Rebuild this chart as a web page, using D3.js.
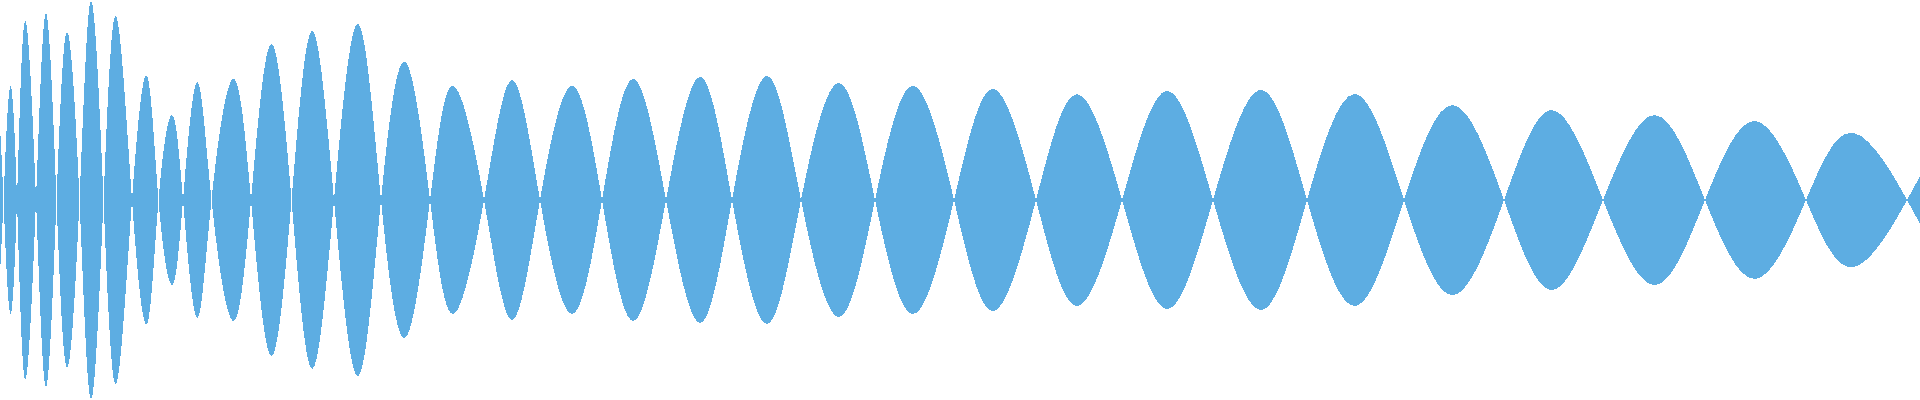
<!DOCTYPE html>
<html>
<head>
<meta charset="utf-8">
<script src="https://cdn.jsdelivr.net/npm/d3@7"></script>
<style>
  html, body { margin: 0; padding: 0; background: #ffffff; overflow: hidden; }
  svg { display: block; }
</style>
</head>
<body>
<svg id="chart" width="1920" height="400"></svg>
<script>
// Zero-crossing positions of the waveform (sample index)
const crossingPos = [3.5, 17, 36, 56.5, 79.5, 103.5, 132, 158.5, 183, 211.5, 251, 291.5, 334, 381, 430, 484, 540, 602, 666, 732, 801, 875, 954, 1036, 1122, 1213, 1307, 1404, 1504, 1603, 1705, 1806, 1907];
// Peak position of each lobe between consecutive crossings
const peakPos = [10, 25, 46, 67, 91, 116, 147, 172, 197, 233, 271, 312, 358, 405, 453, 512, 572, 633, 700, 767, 839, 913, 993, 1077, 1167, 1261, 1355, 1453, 1552, 1655, 1755, 1854];
// Peak amplitude (normalised, 0..1) of each lobe
const peakAmp = [0.565, 0.895, 0.935, 0.84, 0.995, 0.92, 0.62, 0.425, 0.59, 0.605, 0.78, 0.845, 0.88, 0.69, 0.57, 0.6, 0.57, 0.605, 0.615, 0.62, 0.585, 0.57, 0.555, 0.53, 0.545, 0.55, 0.53, 0.475, 0.45, 0.425, 0.395, 0.335];
// Values at the two edges of the window
const edgePos = [0, 1920];
const edgeAmp = [0.365, 0.12];

// Build the signed waveform samples
const samples = [];
samples.push({ t: edgePos[0], v: -edgeAmp[0] });
crossingPos.forEach((c, i) => {
  samples.push({ t: c, v: 0 });
  if (i < peakPos.length) {
    samples.push({ t: peakPos[i], v: (i % 2 === 0 ? 1 : -1) * peakAmp[i] });
  }
});
samples.push({ t: edgePos[1], v: (peakPos.length % 2 === 0 ? 1 : -1) * edgeAmp[1] });

const W = 1920, H = 400;
const svg = d3.select("#chart");
const x = d3.scaleLinear().domain([0, 1920]).range([0, W]);
const y = d3.scaleLinear().domain([-1, 1]).range([H, 0]);

const area = d3.area()
  .x(d => x(d.t))
  .y0(d => y(-d.v))
  .y1(d => y(d.v))
  .curve(d3.curveNatural);

svg.append("path")
  .datum(samples)
  .attr("d", area)
  .attr("fill", "#5dade2")
  .attr("shape-rendering", "crispEdges");
</script>
</body>
</html>
